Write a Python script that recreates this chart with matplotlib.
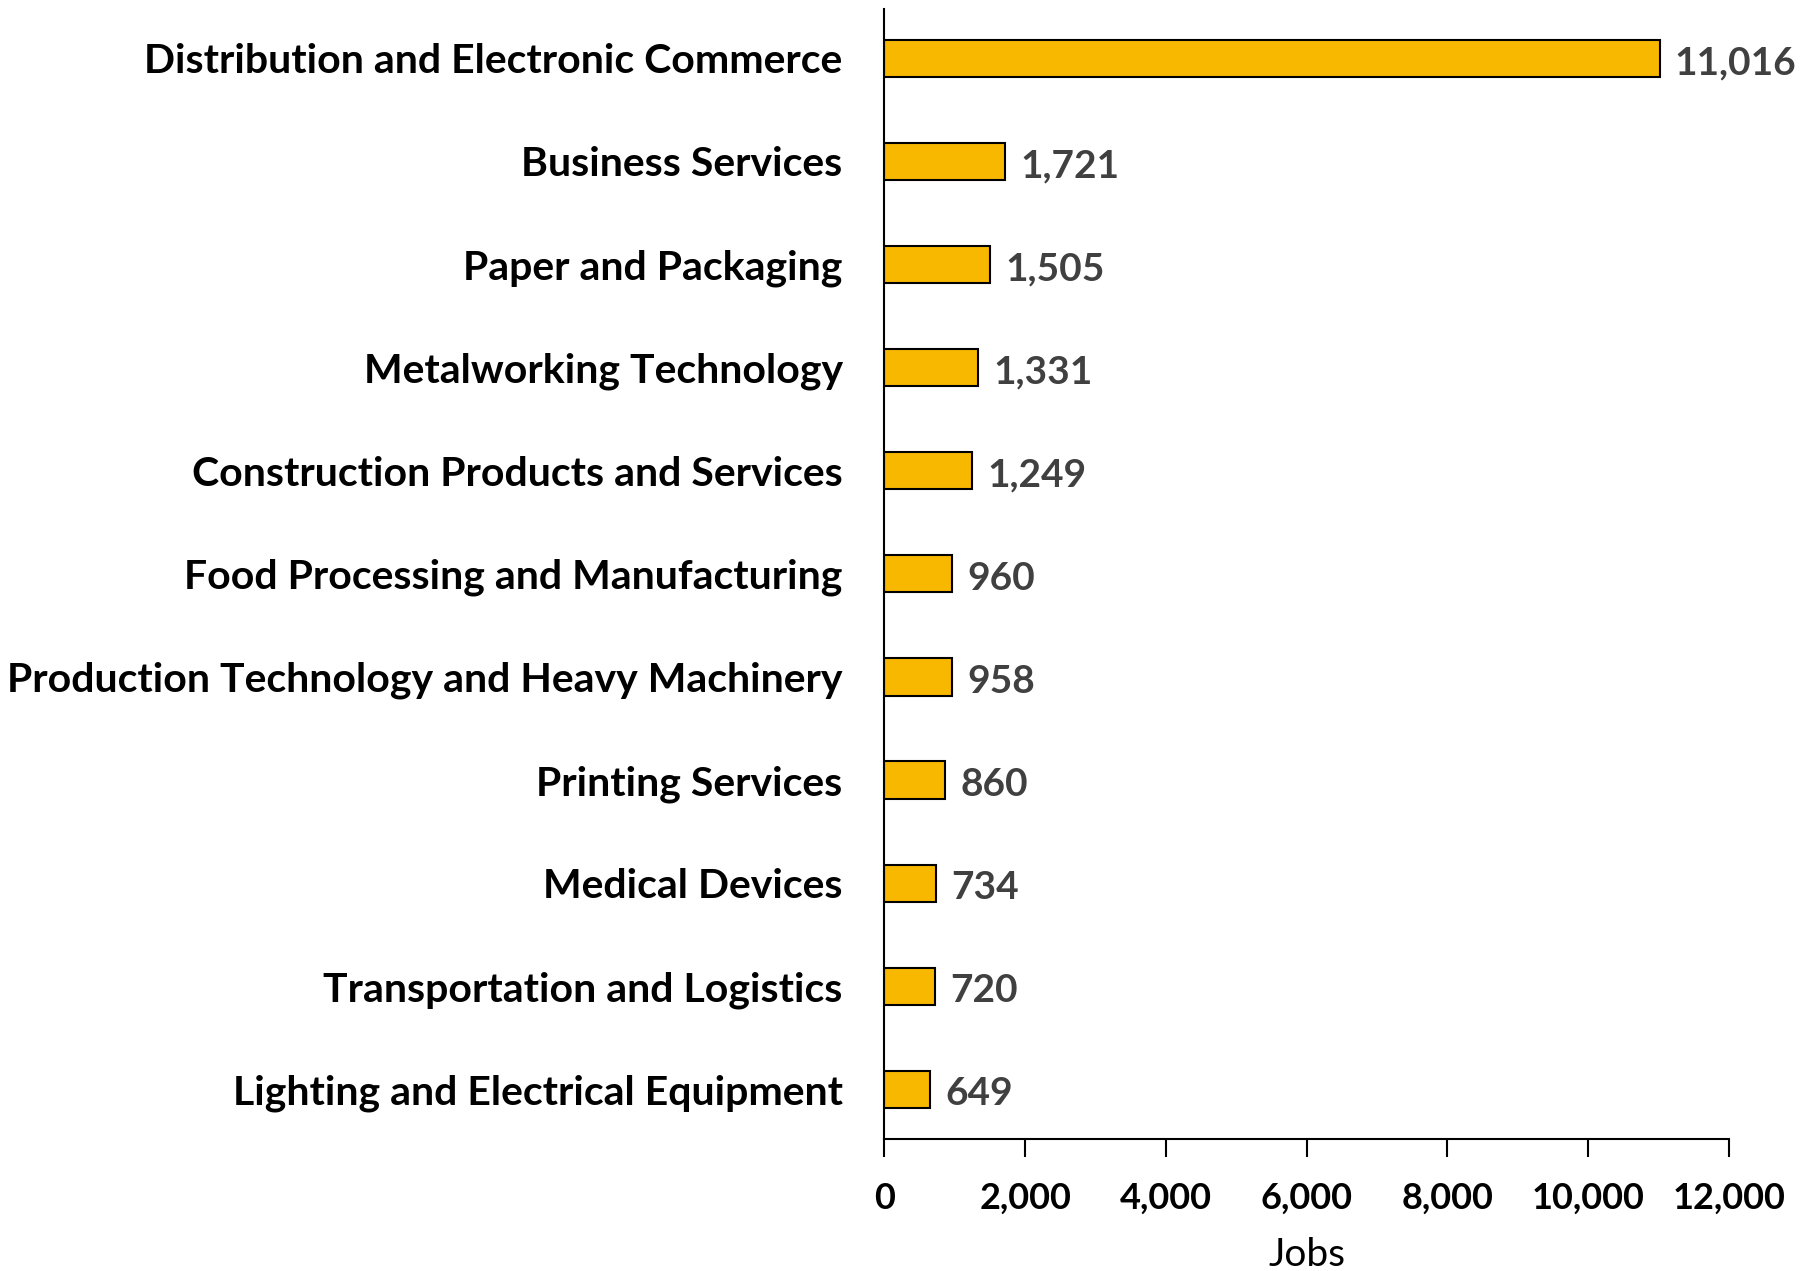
import matplotlib.pyplot as plt

clusters = [
    'Distribution and Electronic Commerce',
    'Business Services',
    'Paper and Packaging',
    'Metalworking Technology',
    'Construction Products and Services',
    'Food Processing and Manufacturing',
    'Production Technology and Heavy Machinery',
    'Printing Services',
    'Medical Devices',
    'Transportation and Logistics',
    'Lighting and Electrical Equipment',
]
jobs = [11016, 1721, 1505, 1331, 1249, 960, 958, 860, 734, 720, 649]
xticks = [0, 2000, 4000, 6000, 8000, 10000, 12000]

plt.rcParams['font.family'] = ['Lato', 'DejaVu Sans']

fig = plt.figure(figsize=(18.16, 12.71), dpi=100)
ax = fig.add_axes([0.487, 0.104, 0.465, 0.889])

pos = list(range(len(clusters)))
ax.barh(pos, jobs, height=0.36, color='#F9B800', edgecolor='black', linewidth=1.5)

for y, v in zip(pos, jobs):
    ax.annotate(f'{v:,}', (v, y), xytext=(11, -3), textcoords='offset points',
                ha='left', va='center', fontsize=28, fontweight='bold', color='#404040')

ax.set_ylim(10.48, -0.48)
ax.set_xlim(0, 12000)
ax.set_yticks(pos)
ax.set_yticklabels(clusters, fontsize=29.5, fontweight='bold')
ax.tick_params(axis='y', length=0, pad=30)
ax.set_xticks(xticks)
ax.set_xticklabels([f'{t:,}' for t in xticks], fontsize=26, fontweight='bold')
ax.tick_params(axis='x', direction='out', length=13, width=1.5, pad=18)
ax.set_xlabel('Jobs', fontsize=28, labelpad=16)

for s in ['top', 'right']:
    ax.spines[s].set_visible(False)
for s in ['left', 'bottom']:
    ax.spines[s].set_linewidth(1.5)

fig.savefig('out.png', dpi=100)
